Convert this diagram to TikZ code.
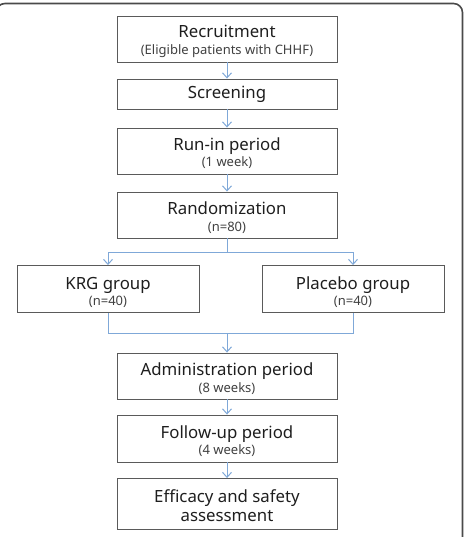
\documentclass[tikz,border=0pt]{standalone}
\usepackage{fontspec}
\setmainfont{Noto Sans}
\usetikzlibrary{arrows.meta}
\definecolor{framegray}{HTML}{4A4A4A}
\definecolor{boxgray}{HTML}{5A5A5A}
\definecolor{textgray}{HTML}{1E1E1E}
\definecolor{subgray}{HTML}{404040}
\definecolor{arrowblue}{HTML}{7FA8D8}
\newcommand{\maintxt}{\fontsize{16.8}{20}\selectfont}
\newcommand{\subtxt}{\fontsize{13}{15}\selectfont}
\tikzset{
  stepbox/.style={draw=boxgray, line width=0.9pt, rectangle, minimum width=220pt, inner sep=0pt},
  sidebox/.style={stepbox, minimum width=182pt},
  ttl/.style={font=\maintxt, text=textgray, anchor=base, inner sep=0pt},
  subl/.style={font=\subtxt, text=subgray, anchor=base, inner sep=0pt},
  flow/.style={draw=arrowblue, line width=1pt},
  arr/.style={flow, -{Straight Barb[length=5pt,width=9pt]}}
}
\begin{document}
\begin{tikzpicture}[x=1pt,y=-1pt]
\useasboundingbox (0,0) rectangle (465,537);
\clip (0,0) rectangle (465,537);
\draw[framegray, line width=1.6pt, rounded corners=9pt] (-4,560) rectangle (462.5,3.5);

% boxes
\node[stepbox, minimum height=46pt] (rec) at (227,39) {};
\node[stepbox, minimum height=30pt] (scr) at (227,94) {};
\node[stepbox, minimum height=46pt] (run) at (227,151) {};
\node[stepbox, minimum height=46pt] (ran) at (227,215) {};
\node[sidebox, minimum height=47pt] (krg) at (108,289) {};
\node[sidebox, minimum height=47pt] (pla) at (353,289) {};
\node[stepbox, minimum height=46pt] (adm) at (227,376) {};
\node[stepbox, minimum height=47pt] (fol) at (227,438.5) {};
\node[stepbox, minimum height=51pt] (eff) at (227,504) {};

% texts
\node[ttl]  (rec-t) at ([yshift=1pt]rec.center) {Recruitment};
\node[subl] (rec-s) at ([yshift=-15.5pt]rec.center) {(Eligible patients with CHHF)};
\node[ttl]  (scr-t) at ([yshift=-5pt]scr.center) {Screening};
\node[ttl]  (run-t) at ([yshift=0.5pt]run.center) {Run-in period};
\node[subl] (run-s) at ([yshift=-16pt]run.center) {(1 week)};
\node[ttl]  (ran-t) at ([yshift=0.5pt]ran.center) {Randomization};
\node[subl] (ran-s) at ([yshift=-16pt]ran.center) {(n=80)};
\node[ttl]  (krg-t) at ([yshift=0pt]krg.center) {KRG group};
\node[subl] (krg-s) at ([yshift=-16.5pt]krg.center) {(n=40)};
\node[ttl]  (pla-t) at ([yshift=0pt]pla.center) {Placebo group};
\node[subl] (pla-s) at ([yshift=-16.5pt]pla.center) {(n=40)};
\node[ttl]  (adm-t) at ([yshift=0.5pt]adm.center) {Administration period};
\node[subl] (adm-s) at ([yshift=-16pt]adm.center) {(8 weeks)};
\node[ttl]  (fol-t) at ([yshift=0.5pt]fol.center) {Follow-up period};
\node[subl] (fol-s) at ([yshift=-16pt]fol.center) {(4 weeks)};
\node[ttl]  (eff-t) at ([yshift=1.3pt]eff.center) {Efficacy and safety};
\node[ttl]  (eff-s) at ([yshift=-17pt]eff.center) {assessment};

\coordinate (split) at (227,252);
\coordinate (merge) at (227,333);

\draw[arr] (rec) -- (scr);
\draw[arr] (scr) -- (run);
\draw[arr] (run) -- (ran);
\draw[flow] (ran.south) -- (split);
\draw[arr] (split) -| (krg.north);
\draw[arr] (split) -| (pla.north);
\draw[flow] (krg.south) |- (merge);
\draw[flow] (pla.south) |- (merge);
\draw[arr] (merge) -- (adm.north);
\draw[arr] (adm) -- (fol);
\draw[arr] (fol) -- (eff);
\end{tikzpicture}
\end{document}
